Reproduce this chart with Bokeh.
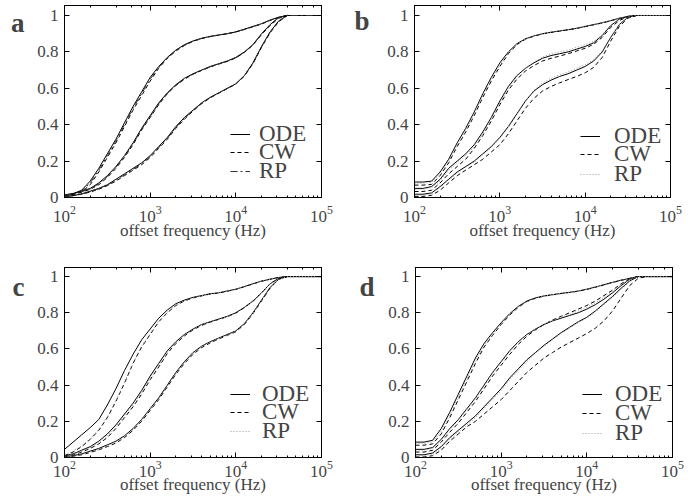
from bokeh.plotting import figure
from bokeh.models import (Range1d, FixedTicker, LogAxis, LinearAxis, Legend,
                          LegendItem, CustomJSTickFormatter)
from bokeh.layouts import column, row
from bokeh.embed import file_html
from bokeh.resources import INLINE

# x grid: log10 of offset frequency (Hz)
log_f = [2.0, 2.1, 2.2, 2.3, 2.4, 2.5, 2.6, 2.7, 2.8, 2.9, 3.0, 3.1, 3.2, 3.3, 3.4,
         3.5, 3.6, 3.7, 3.8, 3.9, 4.0, 4.1, 4.2, 4.3, 4.4, 4.5, 4.6, 4.7, 5.0]
freq = [10 ** e for e in log_f]

y_ticks = [0, 0.2, 0.4, 0.6, 0.8, 1.0]
legend_labels = ["ODE", "CW", "RP"]
x_label = "offset frequency (Hz)"
panel_letters = ["a", "b", "c", "d"]

# ---------------- panel a ----------------
a_ode_1 = [.01, .02, .04, .09, .16, .24, .32, .41, .50, .58, .66, .72, .77, .81, .84, .86, .875, .885, .893, .90, .91, .925, .94, .955, .975, .99, 1, 1, 1]
a_cw_1 = [.01, .015, .03, .07, .14, .22, .30, .39, .48, .56, .64, .71, .765, .805, .835, .858, .873, .884, .892, .90, .91, .923, .938, .953, .973, .99, 1, 1, 1]
a_rp_1 = [.01, .018, .035, .08, .15, .23, .31, .40, .49, .57, .65, .715, .767, .807, .837, .859, .874, .885, .893, .90, .91, .924, .939, .954, .974, .99, 1, 1, 1]
a_ode_2 = [.015, .022, .035, .05, .08, .12, .17, .23, .30, .38, .45, .52, .575, .62, .655, .68, .70, .72, .735, .75, .77, .80, .84, .90, .95, .99, 1, 1, 1]
a_cw_2 = [.012, .018, .03, .045, .07, .11, .16, .22, .29, .37, .44, .51, .57, .615, .65, .677, .698, .717, .733, .748, .767, .797, .838, .895, .945, .985, 1, 1, 1]
a_rp_2 = [.013, .02, .032, .047, .075, .115, .165, .225, .295, .375, .445, .515, .572, .617, .652, .678, .699, .718, .734, .749, .768, .798, .839, .897, .948, .988, 1, 1, 1]
a_ode_3 = [.005, .01, .02, .035, .05, .07, .10, .13, .16, .19, .23, .28, .33, .39, .44, .48, .52, .55, .575, .60, .625, .67, .74, .83, .91, .97, 1, 1, 1]
a_cw_3 = [.005, .01, .018, .03, .045, .065, .09, .12, .15, .18, .22, .27, .32, .38, .43, .475, .515, .547, .573, .598, .623, .667, .735, .825, .905, .965, 1, 1, 1]
a_rp_3 = [.005, .01, .019, .032, .048, .068, .095, .125, .155, .185, .225, .275, .325, .385, .435, .478, .518, .549, .574, .599, .624, .669, .738, .828, .908, .968, 1, 1, 1]

# ---------------- panel b ----------------
b_ode_1 = [.085, .085, .09, .14, .21, .30, .38, .47, .57, .66, .74, .80, .845, .872, .888, .90, .908, .915, .922, .93, .94, .95, .96, .972, .985, .995, 1, 1, 1]
b_cw_1 = [.068, .068, .072, .12, .19, .28, .36, .45, .55, .64, .72, .79, .84, .87, .886, .899, .907, .914, .921, .929, .939, .949, .959, .971, .984, .995, 1, 1, 1]
b_rp_1 = [.078, .078, .083, .13, .20, .29, .37, .46, .56, .65, .73, .795, .842, .871, .887, .90, .909, .916, .923, .931, .941, .951, .961, .973, .986, .996, 1, 1, 1]
b_ode_2 = [.05, .05, .06, .10, .16, .20, .24, .29, .36, .44, .53, .61, .67, .71, .74, .765, .78, .79, .80, .815, .83, .85, .89, .945, .98, .995, 1, 1, 1]
b_cw_2 = [.033, .033, .04, .08, .13, .17, .21, .27, .34, .42, .51, .59, .65, .695, .725, .75, .765, .777, .79, .805, .82, .842, .88, .935, .972, .994, 1, 1, 1]
b_rp_2 = [.045, .045, .055, .09, .15, .19, .23, .28, .35, .43, .52, .60, .665, .71, .745, .772, .79, .80, .81, .825, .84, .858, .895, .948, .98, .996, 1, 1, 1]
b_ode_3 = [.018, .018, .025, .06, .10, .14, .17, .20, .24, .28, .33, .39, .46, .53, .585, .62, .645, .665, .68, .70, .72, .75, .80, .88, .95, .99, 1, 1, 1]
b_cw_3 = [.006, .006, .012, .04, .08, .12, .15, .18, .21, .25, .29, .35, .42, .49, .545, .585, .61, .63, .648, .665, .685, .715, .77, .86, .94, .985, 1, 1, 1]
b_rp_3 = [.012, .012, .02, .055, .095, .135, .165, .195, .235, .275, .325, .385, .455, .53, .59, .628, .655, .675, .69, .71, .73, .758, .805, .882, .952, .99, 1, 1, 1]

# ---------------- panel c ----------------
c_ode_1 = [.045, .085, .125, .165, .21, .29, .38, .48, .57, .65, .71, .77, .815, .85, .87, .885, .895, .905, .91, .92, .93, .945, .96, .975, .985, .995, 1, 1, 1]
c_cw_1 = [.01, .03, .06, .10, .15, .22, .31, .41, .52, .61, .68, .75, .80, .84, .865, .882, .893, .903, .909, .919, .929, .944, .959, .974, .985, .995, 1, 1, 1]
c_rp_1 = [.012, .035, .065, .105, .155, .225, .315, .415, .525, .615, .685, .753, .803, .842, .866, .883, .894, .904, .91, .92, .93, .945, .96, .975, .985, .995, 1, 1, 1]
c_ode_2 = [.01, .02, .04, .06, .09, .13, .18, .24, .30, .37, .45, .52, .59, .64, .68, .71, .735, .75, .765, .78, .80, .83, .865, .91, .96, .99, 1, 1, 1]
c_cw_2 = [.008, .015, .03, .05, .075, .11, .16, .22, .28, .35, .43, .50, .575, .63, .672, .705, .73, .748, .763, .778, .798, .828, .863, .91, .96, .99, 1, 1, 1]
c_rp_2 = [.009, .017, .035, .055, .08, .12, .17, .23, .29, .36, .44, .51, .582, .635, .676, .708, .733, .749, .764, .779, .799, .829, .864, .91, .96, .99, 1, 1, 1]
c_ode_3 = [.005, .01, .02, .035, .05, .07, .09, .12, .16, .21, .27, .33, .40, .47, .53, .58, .615, .64, .66, .68, .70, .74, .80, .87, .94, .985, 1, 1, 1]
c_cw_3 = [.003, .007, .015, .028, .042, .06, .08, .11, .15, .20, .26, .32, .39, .46, .52, .57, .607, .633, .655, .675, .695, .735, .795, .865, .935, .985, 1, 1, 1]
c_rp_3 = [.004, .008, .017, .03, .045, .065, .085, .115, .155, .205, .265, .325, .395, .465, .525, .575, .612, .637, .658, .678, .698, .738, .798, .868, .938, .985, 1, 1, 1]

# ---------------- panel d ----------------
d_ode_1 = [.085, .085, .095, .16, .25, .35, .45, .55, .63, .69, .745, .795, .835, .865, .882, .893, .90, .907, .913, .92, .93, .942, .955, .968, .98, .99, 1, 1, 1]
d_cw_1 = [.068, .068, .075, .13, .22, .32, .42, .52, .61, .675, .735, .787, .83, .862, .88, .892, .899, .906, .912, .919, .929, .941, .954, .967, .979, .99, 1, 1, 1]
d_rp_1 = [.078, .078, .085, .145, .235, .335, .435, .535, .62, .683, .74, .79, .832, .863, .881, .892, .90, .907, .913, .92, .93, .942, .955, .968, .98, .99, 1, 1, 1]
d_ode_2 = [.045, .045, .055, .10, .16, .21, .27, .33, .40, .47, .53, .59, .64, .68, .71, .735, .755, .77, .785, .80, .82, .845, .875, .91, .95, .985, 1, 1, 1]
d_cw_2 = [.03, .03, .04, .085, .14, .19, .25, .31, .38, .45, .51, .57, .625, .67, .705, .735, .76, .78, .80, .82, .84, .865, .895, .925, .96, .988, 1, 1, 1]
d_rp_2 = [.04, .04, .05, .095, .155, .205, .265, .325, .395, .465, .525, .585, .637, .678, .71, .737, .758, .776, .792, .81, .83, .855, .885, .918, .955, .986, 1, 1, 1]
d_ode_3 = [.015, .015, .025, .06, .11, .15, .19, .23, .28, .33, .38, .44, .49, .54, .58, .62, .655, .69, .72, .75, .775, .81, .85, .89, .935, .975, 1, 1, 1]
d_cw_3 = [.003, .003, .01, .04, .09, .13, .17, .20, .24, .28, .32, .37, .42, .47, .51, .55, .58, .61, .635, .66, .685, .715, .755, .81, .88, .95, .99, 1, 1]
d_rp_3 = [.01, .01, .018, .05, .10, .14, .18, .22, .27, .32, .37, .43, .48, .53, .575, .615, .65, .685, .715, .745, .77, .805, .845, .885, .93, .972, 1, 1, 1]

SERIF = "Liberation Serif"


def make_panel(letter, groups, rp_color, rp_dash, left, right, top, bottom,
               fw, fh, ymax, tick_standoff, label_standoff,
               leg_x, leg_ys, standoff, let_pos, let_standoff):
    p = figure(x_axis_type="log", x_range=Range1d(100, 1e5), y_range=Range1d(0, ymax),
               frame_width=fw, frame_height=fh,
               min_border_left=left, min_border_right=right,
               min_border_top=top, min_border_bottom=bottom,
               output_backend="svg", toolbar_location=None,
               background_fill_color="white", border_fill_color="white",
               outline_line_color="black", outline_line_width=1)
    p.grid.visible = False

    xa = p.xaxis[0]
    xa.axis_label = x_label
    xa.axis_label_text_font = SERIF
    xa.axis_label_text_font_size = "17px"
    xa.axis_label_text_font_style = "normal"
    xa.axis_label_standoff = label_standoff
    xa.major_label_text_font = SERIF
    xa.major_label_text_font_size = "17px"
    xa.major_label_standoff = tick_standoff
    xa.major_tick_in = 5
    xa.major_tick_out = 0
    xa.minor_tick_in = 2
    xa.minor_tick_out = 0

    ya = p.yaxis[0]
    ya.ticker = FixedTicker(ticks=y_ticks)
    ya.formatter = CustomJSTickFormatter(code="return (Math.round(tick*10)/10).toString();")
    ya.major_label_text_font = SERIF
    ya.major_label_text_font_size = "17px"
    ya.major_label_standoff = 6
    ya.major_tick_in = 5
    ya.major_tick_out = 0
    ya.minor_tick_line_color = None

    # panel letter, drawn as the single label of an outer left axis
    let_ax = LinearAxis(ticker=FixedTicker(ticks=[let_pos]),
                        formatter=CustomJSTickFormatter(code="return '%s';" % letter),
                        major_label_text_font=SERIF, major_label_text_font_size="27px",
                        major_label_text_font_style="bold", major_label_standoff=let_standoff,
                        major_tick_line_color=None, minor_tick_line_color=None,
                        axis_line_color=None)
    p.add_layout(let_ax, "left")

    blank = CustomJSTickFormatter(code="return '';")
    top_ax = LogAxis(formatter=blank, major_label_text_font_size="1px", major_label_standoff=0,
                     major_tick_in=5, major_tick_out=0, minor_tick_in=2, minor_tick_out=0,
                     axis_line_color="black")
    p.add_layout(top_ax, "above")
    right_ax = LinearAxis(ticker=FixedTicker(ticks=y_ticks), formatter=blank,
                          major_label_text_font_size="1px",
                          major_label_standoff=0, major_tick_in=5, major_tick_out=0,
                          minor_tick_line_color=None, axis_line_color="black")
    p.add_layout(right_ax, "right")

    legend_r = None
    for (ode, cw, rp) in groups:
        r1 = p.line(freq, ode, line_color="black", line_width=1)
        r2 = p.line(freq, cw, line_color="black", line_width=1, line_dash="4 3")
        r3 = p.line(freq, rp, line_color=rp_color, line_width=1, line_dash=rp_dash)
        if legend_r is None:
            legend_r = (r1, r2, r3)

    # one legend per row so that the row spacing matches the reference
    for lab, r, ly in zip(legend_labels, legend_r, leg_ys):
        leg = Legend(items=[LegendItem(label=lab, renderers=[r])], location=(leg_x, ly),
                     padding=0, margin=0, spacing=0,
                     glyph_width=20, glyph_height=30, label_height=30, label_standoff=standoff,
                     label_text_font=SERIF, label_text_font_size="23px",
                     background_fill_alpha=0, border_line_alpha=0)
        p.add_layout(leg, "center")
    return p


pa = make_panel(panel_letters[0], [(a_ode_1, a_cw_1, a_rp_1), (a_ode_2, a_cw_2, a_rp_2), (a_ode_3, a_cw_3, a_rp_3)],
                "#333333", "7 3 2 3", 64, 26, 5, 65, 257, 192, 1.055, 8, -4,
                166, (48, 30, 11), 9, 0.96, 4)
pb = make_panel(panel_letters[1], [(b_ode_1, b_cw_1, b_rp_1), (b_ode_2, b_cw_2, b_rp_2), (b_ode_3, b_cw_3, b_rp_3)],
                "#999999", "1 2", 67, 24, 5, 65, 256, 192, 1.055, 8, -4,
                166, (46, 28, 8), 14, 0.97, 9)
pc = make_panel(panel_letters[2], [(c_ode_1, c_cw_1, c_rp_1), (c_ode_2, c_cw_2, c_rp_2), (c_ode_3, c_cw_3, c_rp_3)],
                "#999999", "1 2", 64, 26, 5, 41, 257, 190, 1.05, 3, -5,
                166, (48, 30, 11), 12, 1.049, 4)
pd = make_panel(panel_letters[3], [(d_ode_1, d_cw_1, d_rp_1), (d_ode_2, d_cw_2, d_rp_2), (d_ode_3, d_cw_3, d_rp_3)],
                "#999999", "1 2", 68, 22, 5, 41, 257, 190, 1.05, 3, -5,
                167, (48, 29, 9), 13, 1.049, 5)

layout = column(row(pa, pb), row(pc, pd))
open("out.html", "w").write(file_html(layout, INLINE))
